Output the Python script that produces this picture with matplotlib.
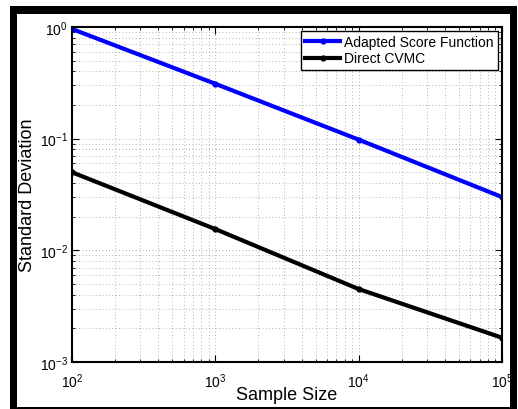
import matplotlib
matplotlib.use('Agg')
import matplotlib.pyplot as plt
from matplotlib.patches import Rectangle
from matplotlib.ticker import FuncFormatter
import numpy as np

plt.rcParams['font.family'] = ['Liberation Sans', 'DejaVu Sans']
plt.rcParams['mathtext.fontset'] = 'custom'
plt.rcParams['mathtext.rm'] = 'Liberation Sans'
plt.rcParams['mathtext.it'] = 'Liberation Sans:italic'

sample_size = [1e2, 1e3, 1e4, 1e5]
adapted_score = [0.96, 0.31, 0.098, 0.030]
direct_cvmc = [0.050, 0.0155, 0.0045, 0.00165]

W, H = 518, 410
fig = plt.figure(figsize=(W / 100, H / 100), dpi=100)
ax = fig.add_axes([72 / W, 1 - 363 / H, (502 - 72) / W, (363 - 28) / H])

ax.plot(sample_size, adapted_score, color='blue', lw=3.0, marker='o', ms=3.5,
        label='Adapted Score Function')
ax.plot(sample_size, direct_cvmc, color='black', lw=3.0, marker='o', ms=3.5,
        label='Direct CVMC')

ax.set_xscale('log')
ax.set_yscale('log')
ax.set_xlim(1e2, 1e5)
ax.set_ylim(1e-3, 1e0)


def xfmt(v, pos):
    e = int(round(np.log10(v)))
    # pad the last label on the right so it sits inside the frame
    return r'$10^{%d}$' % e + (r'$\ \ $' if e == 5 else '')


ax.xaxis.set_major_formatter(FuncFormatter(xfmt))
ax.grid(True, which='both', ls=(0, (1, 3)), color='#999999', lw=0.6)
ax.tick_params(which='both', direction='in', top=True, right=True, labelsize=10)
ax.tick_params(which='major', length=5)
ax.tick_params(which='minor', length=2.5)
ax.tick_params(axis='x', which='major', pad=7)
ax.tick_params(axis='y', which='major', pad=3)
for s in ax.spines.values():
    s.set_linewidth(1.5)

ax.set_xlabel('Sample Size', fontsize=13, va='center')
ax.set_ylabel('Standard Deviation', fontsize=13, va='center')
ax.xaxis.set_label_coords(0.5, (363 - 396) / 335)
ax.yaxis.set_label_coords((28 - 72) / 430, 0.5)

leg = ax.legend(loc='upper right', fontsize=10, fancybox=False, framealpha=1,
                edgecolor='black', borderpad=0.3, handlelength=2.5,
                handletextpad=0.3, labelspacing=0.15, borderaxespad=0.3)
leg.get_frame().set_linewidth(1.0)

# black outer frame (top, left, right, bottom bands)
for x0, y0, w, h in [(10, 7, 507, 8), (10, 7, 7, 403), (510, 7, 7, 403), (10, 408, 507, 2)]:
    fig.add_artist(Rectangle((x0 / W, 1 - (y0 + h) / H), w / W, h / H,
                             transform=fig.transFigure, color='black', lw=0))

fig.savefig('out.png', dpi=100)
